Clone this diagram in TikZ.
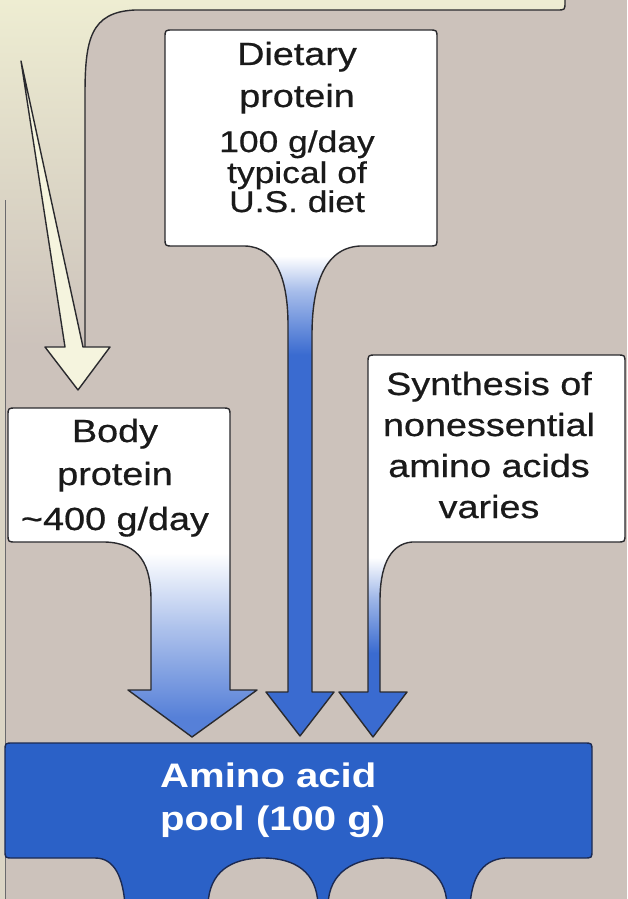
\documentclass[tikz,border=0pt]{standalone}
\usepackage{fontspec}
\newfontfamily\boxfont[FakeStretch=1.18, FakeBold=0.6]{Liberation Sans}
\newfontfamily\poolfont[FakeStretch=1.18]{Liberation Sans}
\usetikzlibrary{calc}
\definecolor{bgTan}{HTML}{CCC2BB}
\definecolor{bgCream}{HTML}{EEEDD2}
\definecolor{lineDark}{HTML}{2A2A2E}
\definecolor{flowBlue}{HTML}{3A6BD0}
\definecolor{bodyBlue}{HTML}{5680D8}
\definecolor{poolBlue}{HTML}{2B61C7}
\definecolor{poolEdge}{HTML}{1C2A52}
\definecolor{recycleFill}{HTML}{F5F4DE}
\definecolor{textDark}{HTML}{1A1A1A}
\pgfdeclareverticalshading{dietShade}{100bp}{color(0bp)=(flowBlue); color(52bp)=(flowBlue);
  color(56.5bp)=(flowBlue!45!white); color(59bp)=(white); color(100bp)=(white)}
\pgfdeclareverticalshading{bodyShade}{100bp}{color(0bp)=(bodyBlue); color(28bp)=(bodyBlue);
  color(42bp)=(flowBlue!40!white); color(53bp)=(white); color(100bp)=(white)}
\pgfdeclareverticalshading{synthShade}{100bp}{color(0bp)=(flowBlue); color(36bp)=(flowBlue);
  color(43bp)=(flowBlue!50!white); color(48.5bp)=(white); color(100bp)=(white)}
\newcommand{\dietSmall}{\fontsize{30}{30}\selectfont}
\tikzset{
  flowLine/.style={draw=lineDark, line width=1.4pt, line join=round},
  boxText/.style={inner sep=0pt, anchor=base, text=textDark,
                  font=\boxfont\fontsize{32}{41}\selectfont},
  poolText/.style={inner sep=0pt, anchor=base west, text=white,
                   font=\poolfont\bfseries\fontsize{34}{43}\selectfont},
}
\begin{document}
\begin{tikzpicture}[x=1pt, y=-1pt]
  \useasboundingbox (0,0) rectangle (627,899);
  \fill[bgTan] (0,0) rectangle (627,899);
  \shade[top color=bgCream, bottom color=bgTan]
    (0,0) -- (565,0) -- (565,2) .. controls (565,10) .. (557,10) -- (135,10)
    .. controls (90,12) and (85,40) .. (85,95) -- (85,347) -- (0,347) -- cycle;
  \fill[bgCream!45!bgTan] (0,200) rectangle (5,899);
  \draw[lineDark!70, line width=0.7pt] (5,200) -- (5,899);
  \draw[flowLine] (565,-2) -- (565,2) .. controls (565,10) .. (557,10) -- (135,10)
    .. controls (90,12) and (85,40) .. (85,95) -- (85,347);
  \filldraw[flowLine, fill=recycleFill]
    (21,61) -- (83,347) -- (110,347) -- (78,390) -- (45,347) -- (65,347) -- cycle;

  \shadedraw[flowLine, shading=bodyShade]
    (16,408) -- (222,408) .. controls (230,408) .. (230,416) -- (230,690) -- (257,690)
    -- (192,737) -- (128,690) -- (151,690) -- (151,600)
    .. controls (151,565) and (140,543) .. (105,542) -- (16,542)
    .. controls (8,542) .. (8,534) -- (8,416) .. controls (8,408) .. (16,408) -- cycle;
  \shadedraw[flowLine, shading=dietShade]
    (173,30) -- (429,30) .. controls (437,30) .. (437,38) -- (437,238)
    .. controls (437,246) .. (429,246) -- (360,246)
    .. controls (322,248) and (312,290) .. (312,335) -- (312,692) -- (334,692)
    -- (300,736) -- (266,692) -- (288,692) -- (288,325)
    .. controls (288,283) and (278,247) .. (245,246) -- (173,246)
    .. controls (165,246) .. (165,238) -- (165,38) .. controls (165,30) .. (173,30) -- cycle;
  \shadedraw[flowLine, shading=synthShade]
    (376,355) -- (617,355) .. controls (625,355) .. (625,363) -- (625,534)
    .. controls (625,542) .. (617,542) -- (412,542)
    .. controls (388,544) and (380,570) .. (380,600) -- (380,692) -- (407,692)
    -- (373,737) -- (339,692) -- (368,692) -- (368,363)
    .. controls (368,355) .. (376,355) -- cycle;

  \filldraw[fill=poolBlue, draw=poolEdge, line width=1.4pt, line join=round]
    (13,743) -- (584,743) .. controls (592,743) .. (592,751) -- (592,850)
    .. controls (592,858) .. (584,858) -- (505,858)
    .. controls (480,860) and (472,880) .. (470,905) -- (447,905)
    .. controls (446,872) and (420,858) .. (387,858)
    .. controls (354,858) and (329,872) .. (328,905) -- (318,905)
    .. controls (317,872) and (295,858) .. (263,858)
    .. controls (231,858) and (209,872) .. (208,905) -- (125,905)
    .. controls (123,878) and (115,858) .. (95,858) -- (13,858)
    .. controls (5,858) .. (5,850) -- (5,751) .. controls (5,743) .. (13,743) -- cycle;

  \node[boxText] (dietary) at (297,65) {\fontsize{32}{42}\selectfont
    \begin{tabular}[t]{@{}c@{}}Dietary\\protein\\[3pt]{\dietSmall 100 g/day}\\[-11pt]
    {\dietSmall typical of}\\[-13pt]{\dietSmall U.S. diet}\end{tabular}};
  \node[boxText] (bodyProt) at (115,442) {\fontsize{32}{43}\selectfont
    \begin{tabular}[t]{@{}c@{}}Body\\protein\\[2pt]\textasciitilde400 g/day\end{tabular}};
  \node[boxText] (synth) at (489,395)
    {\begin{tabular}[t]{@{}c@{}}Synthesis of\\nonessential\\amino acids\\varies\end{tabular}};
  \node[poolText] (pool) at (160,787)
    {\begin{tabular}[t]{@{}l@{}}Amino acid\\pool (100 g)\end{tabular}};
\end{tikzpicture}
\end{document}
